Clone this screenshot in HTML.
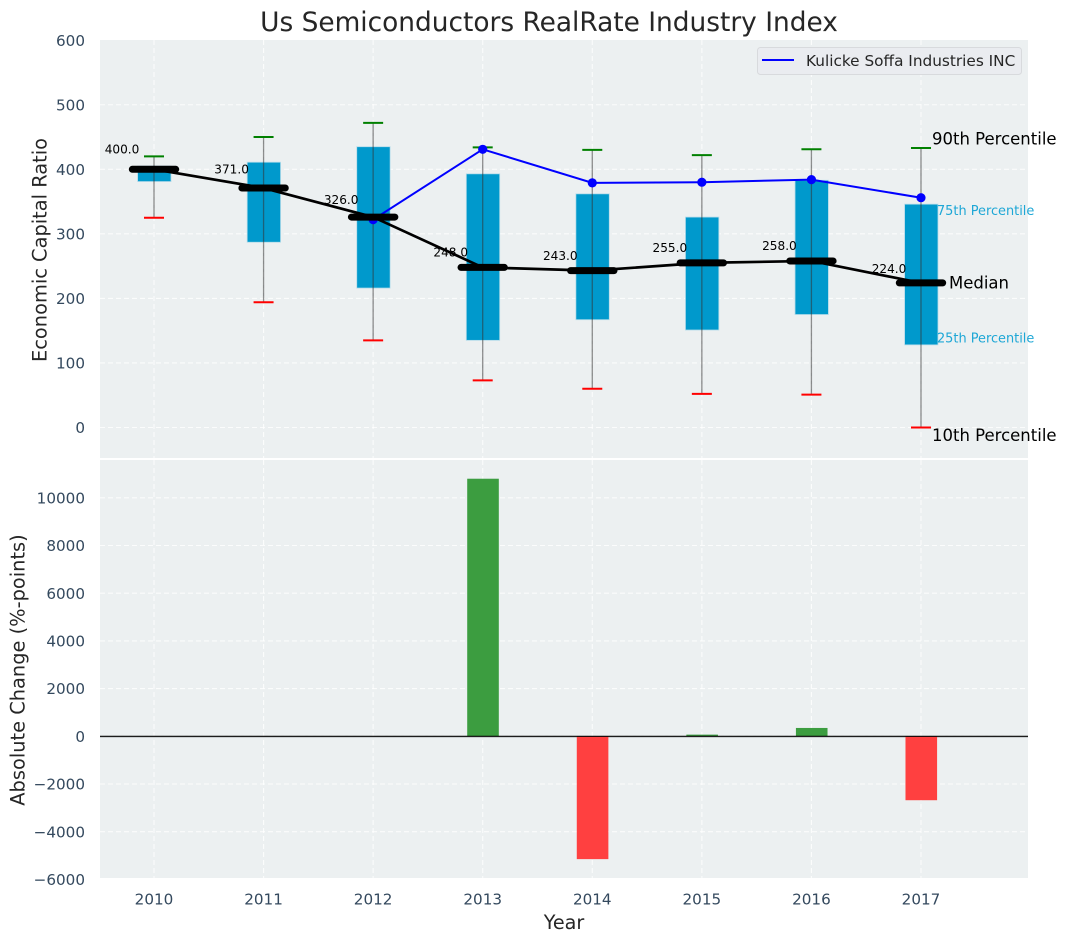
<!DOCTYPE html>
<html lang="en">
<head>
<meta charset="utf-8">
<title>Us Semiconductors RealRate Industry Index</title>
<style>
html,body{margin:0;padding:0;background:#fff;}
svg{display:block;font-family:"DejaVu Sans","Liberation Sans",sans-serif;}
</style>
</head>
<body>
<svg id="chart" xmlns="http://www.w3.org/2000/svg" width="1067" height="942" viewBox="0 0 1067 942">
  <rect x="0" y="0" width="1067" height="942" fill="#ffffff"/>
  <rect x="100" y="40" width="928" height="418" fill="#ecf0f1"/>
  <rect x="100" y="460" width="928" height="418" fill="#ecf0f1"/>
  <g id="grid"></g>
  <g id="bars"></g>
  <g id="boxes"></g>
  <g id="lines"></g>
  <g id="ticks"></g>
  <g id="notes"></g>
  <text x="549" y="31" font-size="26.4" fill="#262626" text-anchor="middle">Us Semiconductors RealRate Industry Index</text>
  <text transform="translate(46.5 250) rotate(-90)" font-size="19.4" fill="#262626" text-anchor="middle">Economic Capital Ratio</text>
  <text transform="translate(24.5 670) rotate(-90)" font-size="19.4" fill="#262626" text-anchor="middle">Absolute Change (%-points)</text>
  <text x="564" y="929" font-size="19.2" fill="#262626" text-anchor="middle">Year</text>
  <g>
    <rect x="757.5" y="47.5" width="264" height="27" rx="3" fill="#eaecf0" stroke="#d8dadd" stroke-width="1"/>
    <line x1="762" y1="60" x2="794" y2="60" stroke="#0000ff" stroke-width="2"/>
    <text x="806" y="66" font-size="15.3" fill="#262626">Kulicke Soffa Industries INC</text>
  </g>
</svg>
<script>
const years = [2010, 2011, 2012, 2013, 2014, 2015, 2016, 2017];
const p90 = [420, 450, 472, 434, 430, 422, 431, 433];
const p75 = [405, 411, 435, 393, 362, 326, 383, 346];
const medians = [400, 371, 326, 248, 243, 255, 258, 224];
const p25 = [381, 287, 216, 135, 167, 151, 175, 128];
const p10 = [325, 194, 135, 73, 60, 52, 51, 0];
const companyYears = [2012, 2013, 2014, 2015, 2016, 2017];
const companyValues = [322, 431, 379, 380, 384, 356];
const changeYears = [2013, 2014, 2015, 2016, 2017];
const changeValues = [10800, -5150, 70, 350, -2680];
const topTicks = [0, 100, 200, 300, 400, 500, 600];
const bottomTicks = [-6000, -4000, -2000, 0, 2000, 4000, 6000, 8000, 10000];

const NS = 'http://www.w3.org/2000/svg';
const xPos = v => 154 + (v - 2010) * 109.57;
const yTop = v => 427.5 - v * 0.6455;
const yBottom = v => 736.3 - v * 0.02385;
const gridLayer = document.getElementById('grid');
const barLayer = document.getElementById('bars');
const boxLayer = document.getElementById('boxes');
const lineLayer = document.getElementById('lines');
const tickLayer = document.getElementById('ticks');
const noteLayer = document.getElementById('notes');
const gridStyle = {stroke: '#ffffff', 'stroke-width': 1.1, 'stroke-opacity': 0.8, 'stroke-dasharray': '5 3'};

function make(tag, parent, props, content) {
  const el = document.createElementNS(NS, tag);
  Object.keys(props).forEach(k => el.setAttribute(k, props[k]));
  if (content !== undefined) el.textContent = content;
  parent.appendChild(el);
  return el;
}
function fmt(v) {
  return String(v).replace('-', '\u2212');
}

/* grid */
years.forEach(yr => {
  [[40, 458], [460, 878]].forEach(span => {
    const g = make('line', gridLayer, Object.assign({x1: xPos(yr), x2: xPos(yr), y1: span[0], y2: span[1]}, gridStyle));
    
    
  });
  const t = make('text', tickLayer, {x: xPos(yr), y: 904.5, 'font-size': 15.2, fill: '#34495e', 'text-anchor': 'middle'}, String(yr));
  
  
});
topTicks.forEach(v => {
  if (v < 600) {
    const g = make('line', gridLayer, Object.assign({x1: 100, x2: 1028, y1: yTop(v), y2: yTop(v)}, gridStyle));
    
    
  }
  const t = make('text', tickLayer, {x: 85, y: yTop(v) + 5.6, 'font-size': 15.2, fill: '#34495e', 'text-anchor': 'end'}, fmt(v));
  
  
});
bottomTicks.forEach(v => {
  if (v > -6000) {
    const g = make('line', gridLayer, Object.assign({x1: 100, x2: 1028, y1: yBottom(v), y2: yBottom(v)}, gridStyle));
    
    
  }
  const t = make('text', tickLayer, {x: 85, y: yBottom(v) + 5.6, 'font-size': 15.2, fill: '#34495e', 'text-anchor': 'end'}, fmt(v));
  
  
});

/* bottom bars */
const zeroShadow = make('line', barLayer, {x1: 100, x2: 1028, y1: yBottom(0) + 1, y2: yBottom(0) + 1, stroke: '#bfc3c5', 'stroke-width': 1});


changeYears.forEach((yr, i) => {
  const v = changeValues[i];
  const top = Math.min(yBottom(v), yBottom(0));
  const b = make('rect', barLayer, {x: xPos(yr) - 15.5, y: top, width: 31.6, height: Math.abs(yBottom(v) - yBottom(0)), fill: v >= 0 ? '#3c9d40' : '#ff4040'});
  
  
});
const zero = make('line', barLayer, {x1: 100, x2: 1028, y1: yBottom(0), y2: yBottom(0), stroke: '#000000', 'stroke-width': 1.2});



/* boxes and whiskers */
years.forEach((yr, i) => {
  const x = xPos(yr);
  const box = make('rect', boxLayer, {x: x - 16.4, y: yTop(p75[i]), width: 33.4, height: yTop(p25[i]) - yTop(p75[i]), fill: '#0099cc', stroke: '#b5dcea', 'stroke-width': 0.8});
  
  
  const w = make('line', boxLayer, {x1: x, x2: x, y1: yTop(p90[i]), y2: yTop(p10[i]), stroke: '#333333', 'stroke-opacity': 0.55, 'stroke-width': 1.3});
  
  
  const hi = make('line', boxLayer, {x1: x - 10, x2: x + 10, y1: yTop(p90[i]), y2: yTop(p90[i]), stroke: '#008000', 'stroke-width': 2});
  
  
  const lo = make('line', boxLayer, {x1: x - 10, x2: x + 10, y1: yTop(p10[i]), y2: yTop(p10[i]), stroke: '#ff0000', 'stroke-width': 2});
  
  
});

/* company line */
const companyPath = make('polyline', lineLayer, {points: companyYears.map((yr, i) => xPos(yr) + ',' + yTop(companyValues[i])).join(' '), fill: 'none', stroke: '#0000ff', 'stroke-width': 2});


companyYears.forEach((yr, i) => {
  const d = make('circle', lineLayer, {cx: xPos(yr), cy: yTop(companyValues[i]), r: 4.6, fill: '#0000ff'});
  
  
});

/* median line */
const medianPath = make('polyline', lineLayer, {points: years.map((yr, i) => xPos(yr) + ',' + yTop(medians[i])).join(' '), fill: 'none', stroke: '#000000', 'stroke-width': 2.7});


years.forEach((yr, i) => {
  const m = make('line', lineLayer, {x1: xPos(yr) - 21.7, x2: xPos(yr) + 21.7, y1: yTop(medians[i]), y2: yTop(medians[i]), stroke: '#000000', 'stroke-width': 7, 'stroke-linecap': 'round'});
  
  
  const t = make('text', noteLayer, {x: xPos(yr) - 49.3, y: yTop(medians[i] * 1.05) - 2.7, 'font-size': 12.1, fill: '#000000'}, medians[i].toFixed(1));
  
  
});

/* end annotations for the last year */
const last = years.length - 1;
const lastX = xPos(years[last]);
const n90 = make('text', noteLayer, {x: lastX + 11, y: yTop(p90[last]) - 3.5, 'font-size': 16.5, fill: '#000000'}, '90th Percentile');


const n75 = make('text', noteLayer, {x: lastX + 16, y: yTop(p75[last]) + 11, 'font-size': 12.9, fill: '#1ea7d6'}, '75th Percentile');


const nMed = make('text', noteLayer, {x: lastX + 28, y: yTop(medians[last]) + 5.5, 'font-size': 16.5, fill: '#000000'}, 'Median');


const n25 = make('text', noteLayer, {x: lastX + 16, y: yTop(p25[last]) - 2.5, 'font-size': 12.9, fill: '#1ea7d6'}, '25th Percentile');


const n10 = make('text', noteLayer, {x: lastX + 11, y: yTop(p10[last]) + 13.5, 'font-size': 16.5, fill: '#000000'}, '10th Percentile');


</script>
</body>
</html>
